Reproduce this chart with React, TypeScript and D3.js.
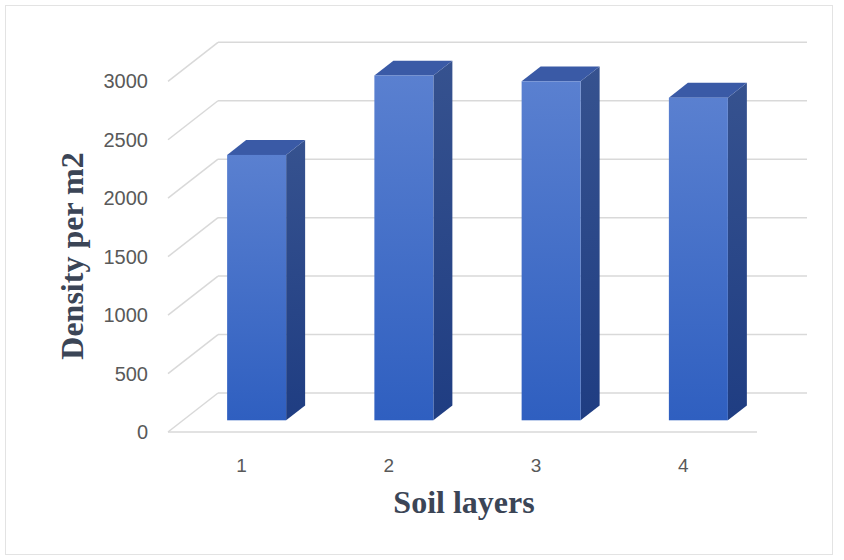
import React from "react";
import * as d3 from "d3";

// Density per m2 for each soil layer
const categories = ["1", "2", "3", "4"];
const values = [2270, 2950, 2900, 2760];
const yTicks = [0, 500, 1000, 1500, 2000, 2500, 3000];

const W = 844;
const H = 560;

// Oblique projection of the 3D box: front plane spans x0..x1, depth adds (dx, dy)
const FRONT_X0 = 168;
const FRONT_X1 = 757;
const DEPTH_DX = 50;
const DEPTH_DY = -39;
const BAR_D0 = 0.3;
const BAR_D1 = 0.68;
const BAR_W = 59;

export default function App() {
  const x = d3.scaleBand<string>().domain(categories).range([FRONT_X0, FRONT_X1]);
  const y = d3.scaleLinear().domain([0, 3000]).range([432, 81.3]);

  const proj = (px: number, py: number, d: number): [number, number] => [
    px + DEPTH_DX * d,
    py + DEPTH_DY * d,
  ];
  const pts = (arr: [number, number][]) => arr.map((p) => p.join(",")).join(" ");

  const gridColor = "#d9d9d9";
  const textColor = "#595959";
  const titleColor = "#3b4556";

  return (
    <svg
      width={W}
      height={H}
      style={{ position: "fixed", left: 0, top: 0, background: "#fff" }}
    >
      <defs>
        <linearGradient id="frontGrad" x1="0" y1="0" x2="0" y2="1">
          <stop offset="0%" stopColor="#5a80d0" />
          <stop offset="100%" stopColor="#2f5fc0" />
        </linearGradient>
        <linearGradient id="sideGrad" x1="0" y1="0" x2="0" y2="1">
          <stop offset="0%" stopColor="#36528f" />
          <stop offset="100%" stopColor="#1f3d82" />
        </linearGradient>
      </defs>
      <rect x={0} y={0} width={W} height={H} fill="#fff" />
      <rect x={5.5} y={5.5} width={827} height={549} fill="none" stroke="#e3e3e3" strokeWidth={1} />

      {/* walls: side-wall slants and back-wall gridlines */}
      {yTicks.map((t) => {
        const [bx0, by] = proj(FRONT_X0, y(t), 1);
        const [bx1] = proj(FRONT_X1, y(t), 1);
        return (
          <g key={t}>
            <line x1={FRONT_X0} y1={y(t)} x2={bx0} y2={by} stroke={gridColor} strokeWidth={1.5} />
            <line x1={bx0} y1={by} x2={bx1} y2={by} stroke={gridColor} strokeWidth={1.5} />
          </g>
        );
      })}
      {/* front floor edge */}
      <line x1={FRONT_X0} y1={y(0)} x2={FRONT_X1} y2={y(0)} stroke={gridColor} strokeWidth={1.5} />

      {/* bars */}
      {categories.map((c, i) => {
        const cx = (x(c) as number) + x.bandwidth() / 2;
        const v = values[i];
        const [fx0, fyTop] = proj(cx - BAR_W / 2, y(v), BAR_D0);
        const [, fyBot] = proj(cx - BAR_W / 2, y(0), BAR_D0);
        const fx1 = fx0 + BAR_W;
        const ddx = DEPTH_DX * (BAR_D1 - BAR_D0);
        const ddy = DEPTH_DY * (BAR_D1 - BAR_D0);
        return (
          <g key={c}>
            <polygon
              points={pts([
                [fx1, fyTop],
                [fx1 + ddx, fyTop + ddy],
                [fx1 + ddx, fyBot + ddy],
                [fx1, fyBot],
              ])}
              fill="url(#sideGrad)"
            />
            <polygon
              points={pts([
                [fx0, fyTop],
                [fx1, fyTop],
                [fx1 + ddx, fyTop + ddy],
                [fx0 + ddx, fyTop + ddy],
              ])}
              fill="#3a5aa6"
            />
            <rect x={fx0} y={fyTop} width={BAR_W} height={fyBot - fyTop} fill="url(#frontGrad)" />
          </g>
        );
      })}

      {/* value axis labels */}
      {yTicks.map((t) => (
        <text
          key={t}
          x={148}
          y={y(t)}
          textAnchor="end"
          dominantBaseline="central"
          fontFamily="'Liberation Sans', Arial, sans-serif"
          fontSize={20}
          fill={textColor}
        >
          {t}
        </text>
      ))}

      {/* category labels */}
      {categories.map((c) => (
        <text
          key={c}
          x={(x(c) as number) + x.bandwidth() / 2}
          y={465}
          textAnchor="middle"
          dominantBaseline="central"
          fontFamily="'Liberation Sans', Arial, sans-serif"
          fontSize={19}
          fill={textColor}
        >
          {c}
        </text>
      ))}

      {/* axis titles */}
      <text
        transform="translate(83,256) rotate(-90)"
        textAnchor="middle"
        fontFamily="'Liberation Serif', 'Times New Roman', serif"
        fontWeight="bold"
        fontSize={32}
        fill={titleColor}
      >
        Density per m2
      </text>
      <text
        x={464}
        y={513}
        textAnchor="middle"
        fontFamily="'Liberation Serif', 'Times New Roman', serif"
        fontWeight="bold"
        fontSize={32}
        fill={titleColor}
      >
        Soil layers
      </text>
    </svg>
  );
}
